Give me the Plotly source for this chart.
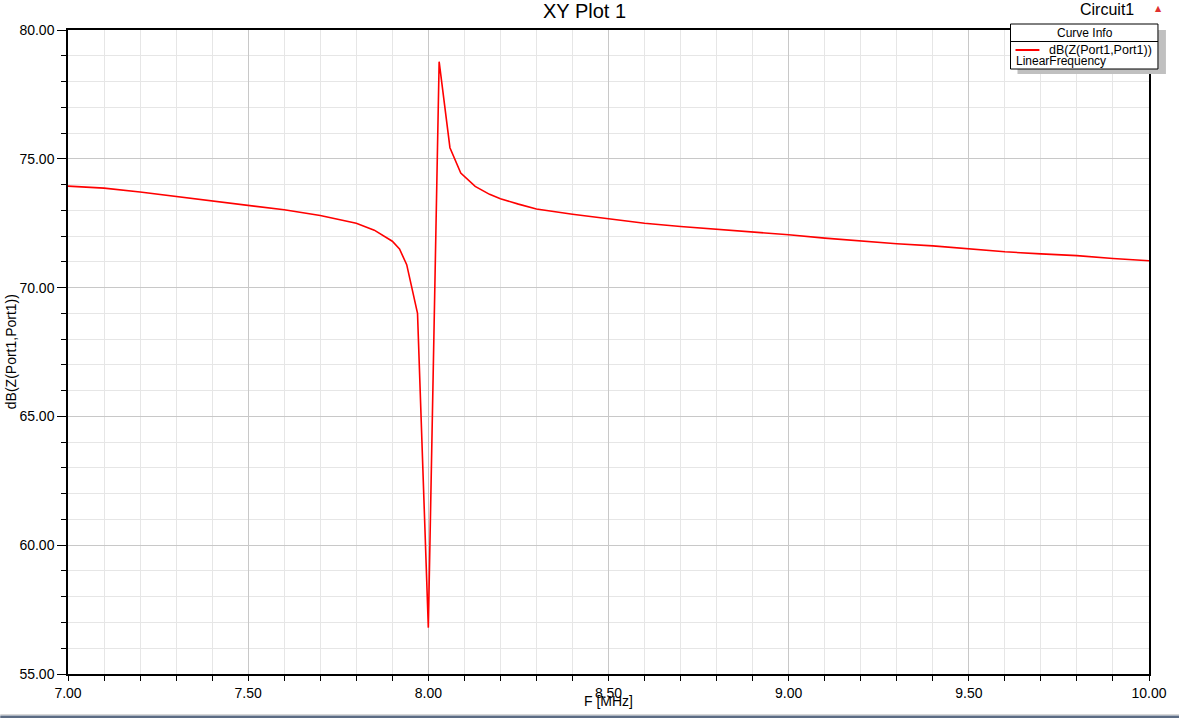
import plotly.graph_objects as go

# ---- data ----
freq_mhz = [7.00, 7.10, 7.20, 7.30, 7.40, 7.50, 7.60, 7.70, 7.80, 7.85, 7.88, 7.90,
            7.92, 7.93, 7.94, 7.97, 8.00, 8.03, 8.06, 8.09, 8.13, 8.17, 8.20, 8.25,
            8.30, 8.40, 8.50, 8.60, 8.70, 8.80, 8.90, 9.00, 9.10, 9.20, 9.30, 9.40,
            9.50, 9.60, 9.70, 9.80, 9.90, 10.00]
db_z11 = [73.94, 73.86, 73.71, 73.54, 73.37, 73.20, 73.02, 72.80, 72.50, 72.23, 71.98, 71.80,
          71.50, 71.20, 70.89, 69.00, 56.80, 78.77, 75.43, 74.45, 73.93, 73.62, 73.45, 73.24,
          73.05, 72.85, 72.67, 72.50, 72.37, 72.27, 72.16, 72.05, 71.92, 71.81, 71.70, 71.62,
          71.51, 71.39, 71.31, 71.24, 71.13, 71.04]
x_ticks = [7.0, 7.5, 8.0, 8.5, 9.0, 9.5, 10.0]
x_tick_labels = ["7.00", "7.50", "8.00", "8.50", "9.00", "9.50", "10.00"]
y_ticks = [55, 60, 65, 70, 75, 80]
y_tick_labels = ["55.00", "60.00", "65.00", "70.00", "75.00", "80.00"]

W, H = 1179, 718
L, R, T, B = 68, 1153, 30, 674          # plot area in page pixels
FONT = "Liberation Sans, Arial, sans-serif"

def px(x):
    return (x - L) / (R - L)

def py(y):
    return (B - y) / (B - T)

fig = go.Figure()
fig.add_trace(go.Scatter(x=freq_mhz, y=db_z11, mode="lines",
                         line=dict(color="#ff0000", width=1.6),
                         name="dB(Z(Port1,Port1))", showlegend=False,
                         hoverinfo="x+y"))

fig.update_layout(
    width=W, height=H,
    margin=dict(l=L, r=W - R, t=T, b=H - B, pad=0),
    paper_bgcolor="white", plot_bgcolor="white",
    font=dict(family=FONT, size=14, color="black"),
    showlegend=False,
)
fig.update_xaxes(
    range=[7.0, 10.0], tickvals=x_ticks, ticktext=x_tick_labels,
    ticks="outside", ticklen=5, tickwidth=1, tickcolor="black",
    showline=True, linecolor="black", linewidth=1.5, mirror=True,
    showgrid=True, gridcolor="#c8c8c8", gridwidth=1, zeroline=False,
    minor=dict(dtick=0.1, tick0=7.0, ticks="outside", ticklen=5, tickcolor="black",
               showgrid=True, gridcolor="#e6e6e6", gridwidth=1),
    tickfont=dict(size=14, family=FONT),
)
fig.update_yaxes(
    range=[55, 80], tickvals=y_ticks, ticktext=y_tick_labels,
    ticks="outside", ticklen=9, tickwidth=1, tickcolor="black",
    showline=True, linecolor="black", linewidth=1.5, mirror=True,
    showgrid=True, gridcolor="#c8c8c8", gridwidth=1, zeroline=False,
    minor=dict(dtick=1, tick0=55, ticks="outside", ticklen=5, tickcolor="black",
               showgrid=True, gridcolor="#e6e6e6", gridwidth=1),
    tickfont=dict(size=14, family=FONT),
)

shapes = []
# legend shadow and box
shapes.append(dict(type="rect", xref="paper", yref="paper",
                   x0=px(1021), x1=px(1170), y0=py(74), y1=py(30),
                   fillcolor="#c0c0c0", line=dict(width=0), layer="above"))
shapes.append(dict(type="rect", xref="paper", yref="paper",
                   x0=px(1014), x1=px(1162), y0=py(69), y1=py(24),
                   fillcolor="white", line=dict(color="black", width=1), layer="above"))
shapes.append(dict(type="line", xref="paper", yref="paper",
                   x0=px(1014), x1=px(1162), y0=py(41.5), y1=py(41.5),
                   line=dict(color="black", width=1), layer="above"))
shapes.append(dict(type="line", xref="paper", yref="paper",
                   x0=px(1019), x1=px(1043), y0=py(50), y1=py(50),
                   line=dict(color="#ff0000", width=2), layer="above"))
# bottom window strip
shapes.append(dict(type="rect", xref="paper", yref="paper",
                   x0=px(0), x1=px(1185), y0=py(720), y1=py(715.5),
                   fillcolor="#5c6c84", line=dict(width=0), layer="above"))
shapes.append(dict(type="line", xref="paper", yref="paper",
                   x0=px(0), x1=px(1185), y0=py(714.5), y1=py(714.5),
                   line=dict(color="#d8d8d8", width=1), layer="above"))
fig.update_layout(shapes=shapes)

ann = []
ann.append(dict(text="XY Plot 1", x=px(586), y=py(10.5), xref="paper", yref="paper",
                showarrow=False, xanchor="center", yanchor="middle",
                font=dict(size=20, family=FONT)))
ann.append(dict(text="Circuit1", x=px(1111), y=py(9.5), xref="paper", yref="paper",
                showarrow=False, xanchor="center", yanchor="middle",
                font=dict(size=16, family=FONT)))
ann.append(dict(text="▲", x=px(1163), y=py(8), xref="paper", yref="paper",
                showarrow=False, xanchor="center", yanchor="middle",
                font=dict(size=8, color="#e03030", family="DejaVu Sans")))
ann.append(dict(text="Curve Info", x=px(1089), y=py(32.5), xref="paper", yref="paper",
                showarrow=False, xanchor="center", yanchor="middle",
                font=dict(size=12, family=FONT)))
ann.append(dict(text="dB(Z(Port1,Port1))", x=px(1158), y=py(50), xref="paper", yref="paper",
                showarrow=False, xanchor="right", yanchor="middle",
                font=dict(size=12.5, family=FONT)))
ann.append(dict(text="LinearFrequency", x=px(1018), y=py(61), xref="paper", yref="paper",
                showarrow=False, xanchor="left", yanchor="middle",
                font=dict(size=12, family=FONT)))
ann.append(dict(text="F [MHz]", x=px(611), y=py(701), xref="paper", yref="paper",
                showarrow=False, xanchor="center", yanchor="middle",
                font=dict(size=14, family=FONT)))
ann.append(dict(text="dB(Z(Port1,Port1))", x=px(11), y=py(352), xref="paper", yref="paper",
                showarrow=False, xanchor="center", yanchor="middle", textangle=-90,
                font=dict(size=14, family=FONT)))
fig.update_layout(annotations=ann)

fig.write_html("out.html",
               config={"displayModeBar": False},
               post_script="document.body.style.margin='0px';"
                           "document.body.style.overflow='hidden';")
